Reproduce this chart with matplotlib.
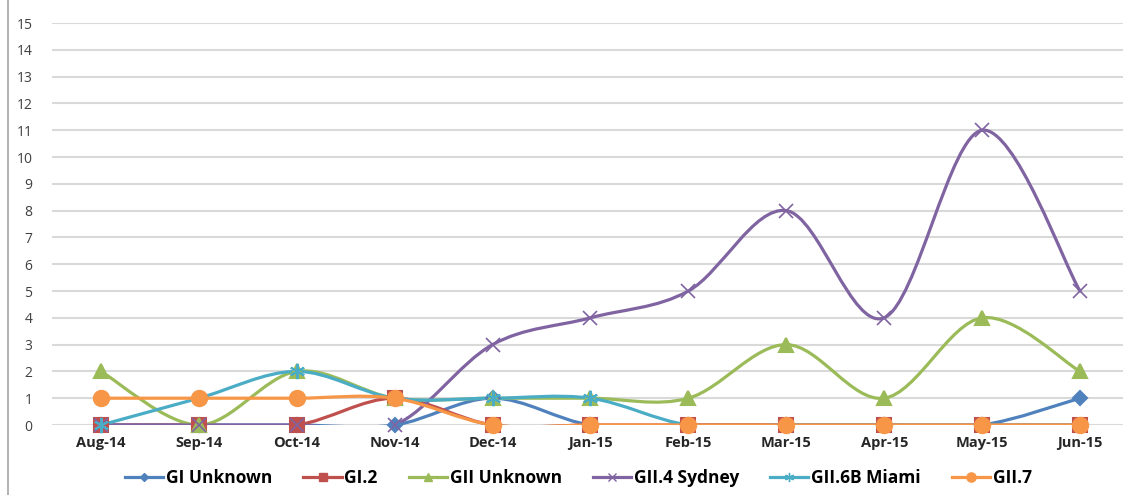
import matplotlib
matplotlib.use("Agg")
import numpy as np
import matplotlib.pyplot as plt
from matplotlib.path import Path
from matplotlib.patches import PathPatch
from matplotlib.lines import Line2D

months = ["Aug-14", "Sep-14", "Oct-14", "Nov-14", "Dec-14", "Jan-15",
          "Feb-15", "Mar-15", "Apr-15", "May-15", "Jun-15"]
gi_unknown = [0, 0, 0, 0, 1, 0, 0, 0, 0, 0, 1]
gi_2 = [0, 0, 0, 1, 0, 0, 0, 0, 0, 0, 0]
gii_unknown = [2, 0, 2, 1, 1, 1, 1, 3, 1, 4, 2]
gii4_sydney = [0, 0, 0, 0, 3, 4, 5, 8, 4, 11, 5]
gii6b_miami = [0, 1, 2, 1, 1, 1, 0, 0, 0, 0, 0]
gii_7 = [1, 1, 1, 1, 0, 0, 0, 0, 0, 0, 0]

series = [
    ("GI Unknown", gi_unknown, "#4F81BD", "D", 7),
    ("GI.2", gi_2, "#C0504D", "s", 10),
    ("GII Unknown", gii_unknown, "#9BBB59", "^", 10),
    ("GII.4 Sydney", gii4_sydney, "#8064A2", "x", 10),
    ("GII.6B Miami", gii6b_miami, "#4BACC6", (6, 2, 0), 11),
    ("GII.7", gii_7, "#F79646", "o", 11),
]


def smooth_path(x, y):
    # Excel-style smoothed line: cubic bezier through every point
    p = np.column_stack([x, y]).astype(float)
    n = len(p)
    verts = [p[0]]
    codes = [Path.MOVETO]
    for i in range(n - 1):
        p0 = p[i - 1] if i > 0 else p[i]
        p3 = p[i + 2] if i + 2 < n else p[i + 1]
        c1 = p[i] + (p[i + 1] - p0) / 6.0
        c2 = p[i + 1] - (p3 - p[i]) / 6.0
        verts += [c1, c2, p[i + 1]]
        codes += [Path.CURVE4] * 3
    return Path(verts, codes)


plt.rcParams["font.family"] = ["Open Sans", "DejaVu Sans"]
fig = plt.figure(figsize=(11.23, 4.95), dpi=100)
ax = fig.add_axes([0.0463, 0.1414, 0.959, 0.8121])

x = np.arange(len(months))
for name, vals, color, marker, ms in series:
    ax.add_patch(PathPatch(smooth_path(x, vals), facecolor="none",
                           edgecolor=color, lw=2.3, zorder=3, capstyle="round"))
    ax.plot(x, vals, linestyle="none", marker=marker, color=color,
            markersize=ms, markeredgewidth=1.5 if marker != "x" else 1.2,
            zorder=4, clip_on=False)

ax.set_xlim(-0.5, len(months) - 0.5)
ax.set_ylim(0, 15)
ax.set_yticks(range(0, 16))
ax.set_xticks(x)
ax.set_xticklabels(months, fontsize=10.5, fontweight="bold", color="#262626")
ax.tick_params(axis="y", labelsize=10, colors="#404040", length=0, pad=14)
ax.tick_params(axis="x", length=0, pad=8)
ax.grid(axis="y", color="#D9D9D9", lw=1.5)
ax.set_axisbelow(True)
for s in ax.spines.values():
    s.set_visible(False)

# chart frame edge on the left
fig.add_artist(Line2D([8 / 1123, 8 / 1123], [0, 1], color="#A6A6A6", lw=1.2))

handles = [Line2D([], [], color=c, lw=2.3, marker=m, markersize=ms * 0.6,
                  markeredgewidth=1.0) for _, _, c, m, ms in series]
fig.legend(handles, [s[0] for s in series], loc="center", ncol=6,
           bbox_to_anchor=(0.515, 0.034), frameon=False,
           prop={"size": 12.5, "weight": "bold"},
           handlelength=2.2, handletextpad=0.15, columnspacing=1.8)

fig.savefig("out.png", dpi=100)
